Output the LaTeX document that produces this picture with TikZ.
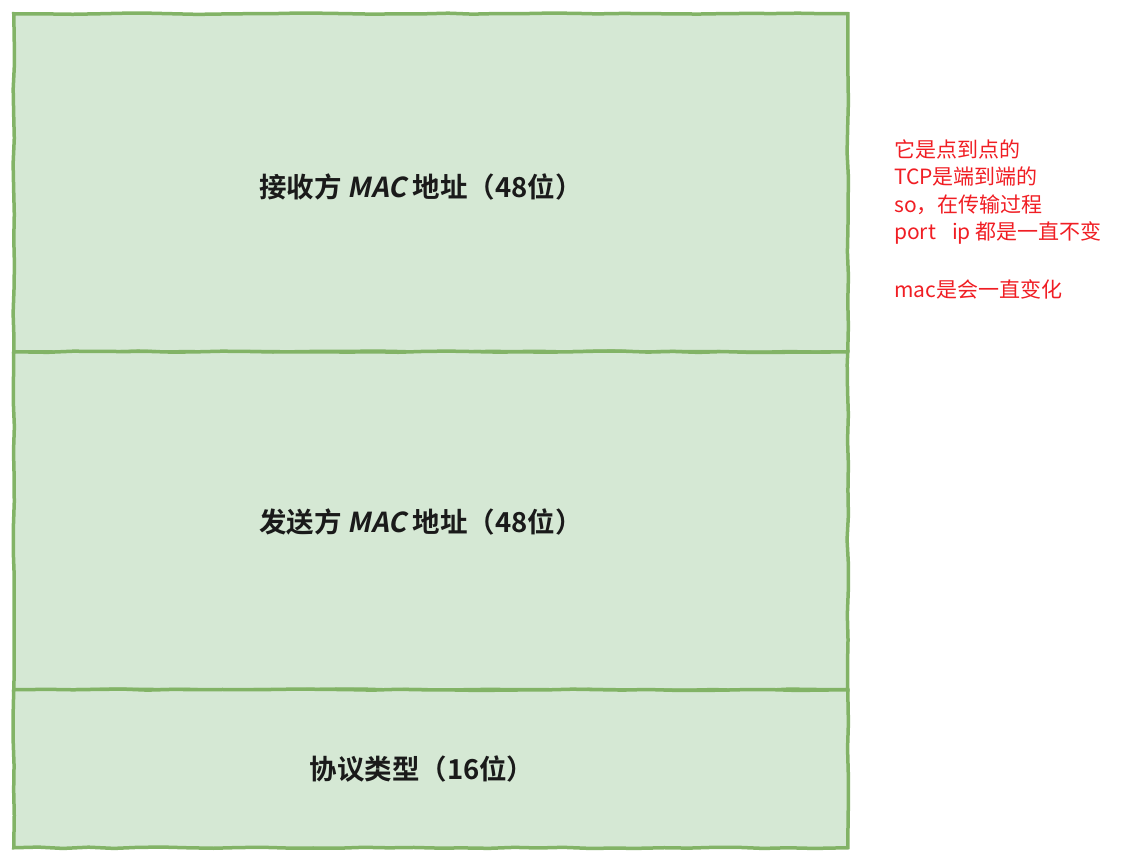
\documentclass[tikz,border=0pt]{standalone}
\usepackage{fontspec}
\newfontfamily\cjk{Noto Sans CJK SC}
\newfontfamily\cjkb{Noto Sans CJK SC Bold}
\newfontfamily\cjkbsl{Noto Sans CJK SC Bold}[FakeSlant=0.2]
\usetikzlibrary{decorations.pathmorphing}
\definecolor{boxfill}{HTML}{D5E8D4}
\definecolor{boxline}{HTML}{82B366}
\definecolor{notered}{HTML}{F01E24}
\definecolor{fieldtext}{HTML}{1A1A1A}
\begin{document}
\begin{tikzpicture}[x=1pt,y=-1pt,
  field/.style={draw=boxline, fill=boxfill, line width=3.5pt, minimum width=834pt, inner sep=0pt,
    decorate, decoration={random steps, segment length=25pt, amplitude=0.7pt}},
  fieldlabel/.style={font=\cjkb\fontsize{27.5}{32}\selectfont, text=fieldtext, inner sep=0pt},
  note/.style={font=\cjk\fontsize{21}{27}\selectfont, text=notered, inner sep=0pt, anchor=base west}]
\useasboundingbox (0,0) rectangle (1145,853);
\node[field, minimum height=338pt, anchor=north west] (f1) at (12,12) {};
\node[field, minimum height=338pt, anchor=north west] (f2) at (12,350) {};
\node[field, minimum height=158pt, anchor=north west] (f3) at (12,688) {};
\node[fieldlabel] (t1) at (421,187) {接收方 {\cjkbsl MAC} 地址（48位）};
\node[fieldlabel] (t2) at (421,522) {发送方 {\cjkbsl MAC} 地址（48位）};
\node[fieldlabel] (t3) at (422,769) {协议类型（16位）};
\node[note] (n1) at (894,158) {它是点到点的};
\node[note] (n2) at (894,185) {TCP是端到端的};
\node[note] (n3) at (894,212) {so，在传输过程};
\node[note] (n4) at (894,239) {port\hspace{16pt}ip 都是一直不变};
\node[note] (n5) at (894,297) {mac是会一直变化};
\end{tikzpicture}
\end{document}
